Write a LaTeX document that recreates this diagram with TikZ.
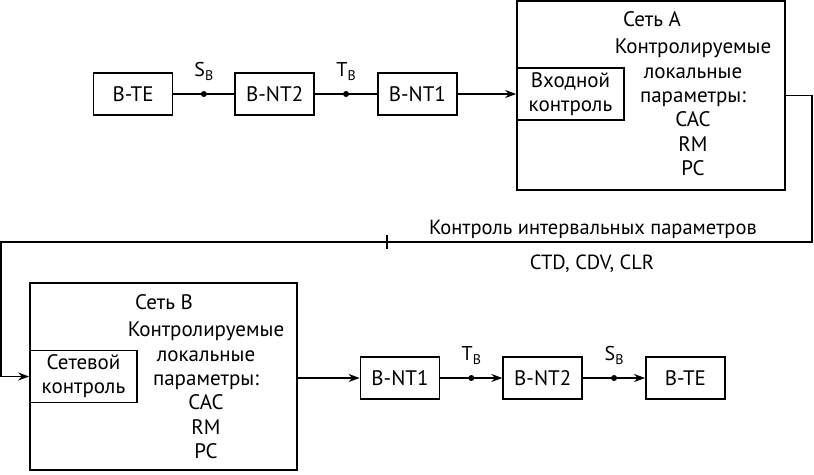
\documentclass[tikz,border=0pt]{standalone}
\usepackage{fontspec}
\setmainfont{PT Sans}
\usetikzlibrary{positioning,arrows.meta}
\newcommand{\ifcidx}[1]{#1\raisebox{-4pt}{\fontsize{14}{14}\selectfont B}}

\begin{document}
\begin{tikzpicture}[x=1pt,y=-1pt,
  blk/.style={draw,line width=1.7pt,minimum width=79pt,minimum height=42pt,inner sep=0pt,font=\fontsize{21}{24}\selectfont},
  netbox/.style={draw,line width=1.7pt,inner sep=0pt},
  inbox/.style={draw,line width=1.7pt,minimum width=107pt,minimum height=52pt,inner sep=0pt,align=center,font=\fontsize{21}{24}\selectfont},
  txt/.style={inner sep=0pt,align=center,font=\fontsize{21}{24.3}\selectfont},
  lbl/.style={inner sep=0pt,font=\fontsize{20}{24}\selectfont},
  dotp/.style={circle,fill,inner sep=0pt,minimum size=6pt},
  ln/.style={line width=1.7pt},
  arr/.style={ln,-{Stealth[length=11pt,width=8pt]}}
]
\useasboundingbox (0,0) rectangle (814,474);

% network A
\node[netbox,minimum width=268pt,minimum height=189pt] (neta) at (651,95.5) {};
\node[inbox,anchor=west] (vk) at (neta.west |- 0,94) {Входной\\контроль};
\node[txt] (tA) at (652,19) {Сеть A};
\node[txt] (parA) at (693,107.5) {Контролируемые\\локальные\\параметры:\\CAC\\RM\\PC};

% top row
\node[blk] (bte) at (133,94) {B-TE};
\node[blk,right=61pt of bte] (nt2) {B-NT2};
\node[blk,right=62pt of nt2] (nt1) {B-NT1};

\draw[ln] (bte) -- node[dotp] (dsa) {} (nt2);
\draw[ln] (nt2) -- node[dotp] (dta) {} (nt1);
\draw[arr] (nt1) -- (vk);
\node[lbl,above=9pt of dsa] {\ifcidx{S}};
\node[lbl,above=9pt of dta] {\ifcidx{T}};

% interval control
\coordinate (rc) at (812,242);
\coordinate (lc) at (1,242);
\coordinate (tick) at (387,242);
\node[txt,font=\fontsize{20.5}{24}\selectfont] (intv) at (593,229) {Контроль интервальных параметров};
\node[txt,font=\fontsize{20.5}{24}\selectfont] (intp) at (592,264) {CTD, CDV, CLR};

% network B
\node[netbox,minimum width=267pt,minimum height=187pt] (netb) at (163.5,376.5) {};
\node[inbox,anchor=west] (sk) at (netb.west) {Сетевой\\контроль};
\node[txt] (tB) at (164,302) {Сеть B};
\node[txt] (parB) at (206,390.5) {Контролируемые\\локальные\\параметры:\\CAC\\RM\\PC};

\draw[arr] (neta.east) -| (rc) -- (lc) |- (sk.west);
\draw[ln] (tick) ++(0,-7) -- ++(0,14);

% bottom row
\node[blk] (nt1b) at (400,378) {B-NT1};
\node[blk,right=62pt of nt1b] (nt2b) {B-NT2};
\node[blk,right=62pt of nt2b] (bteb) {B-TE};

\draw[arr] (netb.east |- nt1b) -- (nt1b);
\draw[arr] (nt1b) -- node[dotp] (dtb) {} (nt2b);
\draw[arr] (nt2b) -- node[dotp] (dsb) {} (bteb);
\node[lbl,above=9pt of dtb] {\ifcidx{T}};
\node[lbl,above=9pt of dsb] {\ifcidx{S}};
\end{tikzpicture}
\end{document}
